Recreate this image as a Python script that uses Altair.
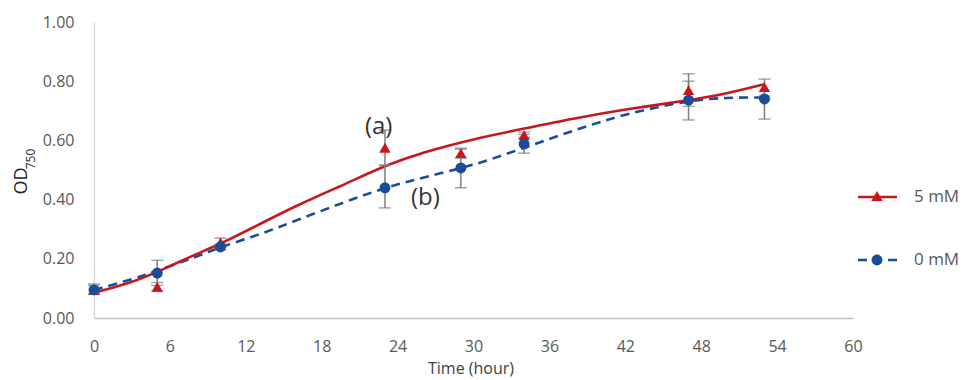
import altair as alt
import pandas as pd

# Measured data
time = [0, 5, 10, 23, 29, 34, 47, 53]
od_5mM = [0.095, 0.105, 0.255, 0.575, 0.557, 0.618, 0.770, 0.780]
lo_5mM = [0.080, 0.090, 0.240, 0.515, 0.540, 0.610, 0.715, 0.750]
hi_5mM = [0.115, 0.120, 0.270, 0.635, 0.574, 0.628, 0.825, 0.807]
od_0mM = [0.095, 0.152, 0.240, 0.440, 0.507, 0.588, 0.736, 0.740]
lo_0mM = [0.080, 0.110, 0.230, 0.372, 0.440, 0.557, 0.669, 0.672]
hi_0mM = [0.110, 0.195, 0.250, 0.517, 0.570, 0.620, 0.800, 0.740]

# Fitted curves
fit_t = [0, 3, 5, 8, 10, 13, 16, 20, 23, 26, 30, 34, 38, 42, 47, 50, 53]
fit_5mM = [0.085, 0.120, 0.155, 0.215, 0.250, 0.315, 0.380, 0.455, 0.515, 0.560,
           0.605, 0.640, 0.675, 0.705, 0.735, 0.758, 0.790]
fit_0mM = [0.095, 0.130, 0.160, 0.205, 0.240, 0.280, 0.330, 0.395, 0.440, 0.475,
           0.515, 0.575, 0.635, 0.690, 0.735, 0.745, 0.745]

x_ticks = [0, 6, 12, 18, 24, 30, 36, 42, 48, 54, 60]
y_ticks = [0.0, 0.2, 0.4, 0.6, 0.8, 1.0]
series = ["5 mM", "0 mM"]
annotations = ["(a)", "(b)"]
ann_t = [22.5, 26.2]
ann_y = [0.645, 0.405]
x_title = "Time (hour)"

RED = "#C8161E"
BLUE = "#1A4C9A"
GRAY = "#7F7F7F"
FONT = "Open Sans"

pts5 = pd.DataFrame({"t": time, "od": od_5mM, "lo": lo_5mM, "hi": hi_5mM})
pts0 = pd.DataFrame({"t": time, "od": od_0mM, "lo": lo_0mM, "hi": hi_0mM})
fit5 = pd.DataFrame({"t": fit_t, "od": fit_5mM})
fit0 = pd.DataFrame({"t": fit_t, "od": fit_0mM})
ann = pd.DataFrame({"t": ann_t, "od": ann_y, "label": annotations})

xscale = alt.Scale(domain=[0, 60], nice=False)
yscale = alt.Scale(domain=[0, 1], nice=False)
xaxis = alt.Axis(values=x_ticks, grid=False, ticks=False, labelPadding=20, labelFlush=False,
                 domainColor="#BFBFBF", domainWidth=1.5, labelColor="#595959",
                 labelFontSize=16, labelFont=FONT)
yaxis = alt.Axis(values=y_ticks, format=".2f", grid=False, ticks=False, labelPadding=20,
                 domainColor="#D9D9D9", domainWidth=1.5, labelColor="#595959",
                 labelFontSize=16, labelFont=FONT)


def X(field="t"):
    return alt.X(f"{field}:Q", scale=xscale, axis=xaxis, title=None)


def Y(field="od"):
    return alt.Y(f"{field}:Q", scale=yscale, axis=yaxis, title=None)


line5 = alt.Chart(fit5).mark_line(color=RED, strokeWidth=2.6, interpolate="basis").encode(x=X(), y=Y())
line0 = alt.Chart(fit0).mark_line(color=BLUE, strokeWidth=2.6, strokeDash=[9, 6],
                                  interpolate="basis").encode(x=X(), y=Y())


def errbars(df):
    rule = alt.Chart(df).mark_rule(color=GRAY, strokeWidth=1.5).encode(
        x=X(), y=Y("lo"), y2="hi:Q")
    cap_hi = alt.Chart(df).mark_tick(color=GRAY, orient="horizontal", size=12, thickness=1.5).encode(
        x=X(), y=Y("hi"))
    cap_lo = alt.Chart(df).mark_tick(color=GRAY, orient="horizontal", size=12, thickness=1.5).encode(
        x=X(), y=Y("lo"))
    return [rule, cap_hi, cap_lo]


pt5 = alt.Chart(pts5).mark_point(shape="triangle-up", filled=True, color=RED, size=130,
                                 opacity=1).encode(x=X(), y=Y())
pt0 = alt.Chart(pts0).mark_point(shape="circle", filled=True, color=BLUE, size=120,
                                 opacity=1).encode(x=X(), y=Y())

ann_text = alt.Chart(ann).mark_text(font=FONT, fontSize=24, color="#333333").encode(
    x=X(), y=Y(), text="label:N")

# Legend (manual, positioned in pixels relative to plot area)
one = pd.DataFrame({"label": [series[0]]})
two = pd.DataFrame({"label": [series[1]]})
leg = [
    alt.Chart(one).mark_rule(color=RED, strokeWidth=2.6).encode(
        x=alt.value(764), x2=alt.value(803), y=alt.value(175)),
    alt.Chart(one).mark_point(shape="triangle-up", filled=True, color=RED, size=130, opacity=1).encode(
        x=alt.value(783), y=alt.value(174)),
    alt.Chart(one).mark_text(align="left", baseline="middle", font=FONT, fontSize=17, color="#595959").encode(
        x=alt.value(820), y=alt.value(175), text="label:N"),
    alt.Chart(two).mark_rule(color=BLUE, strokeWidth=2.6, strokeDash=[9, 6]).encode(
        x=alt.value(764), x2=alt.value(803), y=alt.value(238)),
    alt.Chart(two).mark_point(shape="circle", filled=True, color=BLUE, size=120, opacity=1).encode(
        x=alt.value(783), y=alt.value(238)),
    alt.Chart(two).mark_text(align="left", baseline="middle", font=FONT, fontSize=17, color="#595959").encode(
        x=alt.value(820), y=alt.value(238), text="label:N"),
]

# Axis titles as text marks: "OD" with subscript "750", and the x title
ytitle = pd.DataFrame({"a": ["OD"], "b": ["750"], "x": [x_title]})
yt1 = alt.Chart(ytitle).mark_text(angle=270, align="center", baseline="middle", font=FONT,
                                  fontSize=18, color="#262626").encode(
    x=alt.value(-72), y=alt.value(159), text="a:N")
yt2 = alt.Chart(ytitle).mark_text(angle=270, align="center", baseline="middle", font=FONT,
                                  fontSize=12, color="#262626").encode(
    x=alt.value(-63), y=alt.value(137), text="b:N")
xt = alt.Chart(ytitle).mark_text(align="center", baseline="middle", font=FONT,
                                 fontSize=16, color="#404040").encode(
    x=alt.value(377), y=alt.value(347), text="x:N")

layers = [line0, line5] + errbars(pts5) + errbars(pts0) + [pt5, pt0, ann_text] + leg + [yt1, yt2, xt]

chart = alt.layer(*layers).properties(
    width=759, height=296,
    background="white",
    autosize=alt.AutoSizeParams(type="none"),
    padding={"left": 86, "top": 14, "right": 109, "bottom": 60},
).configure_view(stroke="transparent", strokeWidth=0)

chart.save("out.html", embed_options={"renderer": "svg", "actions": False})
